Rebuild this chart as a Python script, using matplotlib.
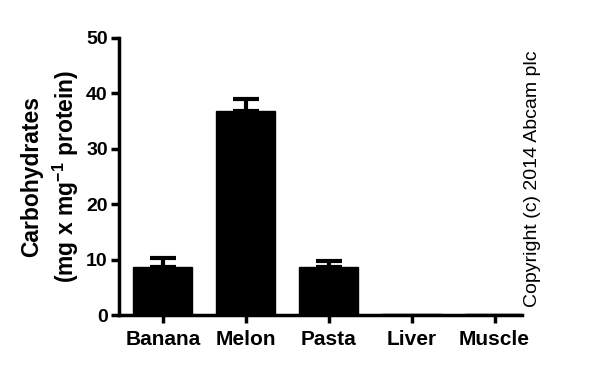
import matplotlib
matplotlib.use("Agg")
import matplotlib.pyplot as plt

categories = ["Banana", "Melon", "Pasta", "Liver", "Muscle"]
values = [8.7, 36.8, 8.7, 0.2, 0.2]
errors = [1.6, 2.2, 1.1, 0.0, 0.0]
y_ticks = [0, 10, 20, 30, 40, 50]

plt.rcParams["font.family"] = ["Liberation Sans", "DejaVu Sans"]
plt.rcParams["mathtext.fontset"] = "custom"
plt.rcParams["mathtext.bf"] = "Liberation Sans:bold"
plt.rcParams["mathtext.rm"] = "Liberation Sans:bold"

fig = plt.figure(figsize=(6, 3.72), dpi=100)
ax = fig.add_axes([0.198, 0.153, 0.672, 0.745])

x = list(range(len(categories)))
ax.bar(x, values, width=0.71, color="black", edgecolor="black", linewidth=1)
err_x = [i for i, e in zip(x, errors) if e > 0]
err_y = [v for v, e in zip(values, errors) if e > 0]
err_e = [e for e in errors if e > 0]
ax.errorbar(err_x, err_y, yerr=[[0] * len(err_e), err_e], fmt="none",
            ecolor="black", elinewidth=3, capsize=9.5, capthick=3)

ax.set_xlim(-0.53, 4.33)
ax.set_ylim(0, 50)
ax.set_yticks(y_ticks)
ax.set_xticks(x)
ax.set_xticklabels(categories, fontsize=15, fontweight="bold")
ax.tick_params(axis="y", labelsize=14, width=2.5, length=6, direction="out", pad=2)
ax.tick_params(axis="x", width=2.5, length=6, direction="out", pad=5)
for lbl in ax.get_yticklabels():
    lbl.set_fontweight("bold")

for side in ["top", "right"]:
    ax.spines[side].set_visible(False)
for side in ["left", "bottom"]:
    ax.spines[side].set_linewidth(2.5)

ax.set_ylabel("Carbohydrates\n(mg x mg$^{\\mathrm{-1}}$ protein)", fontsize=16.5,
              fontweight="bold", linespacing=1.3, labelpad=4)

fig.text(0.887, 0.175, "Copyright (c) 2014 Abcam plc", rotation=90,
         fontsize=14, ha="center", va="bottom")

fig.savefig("out.png", dpi=100)
